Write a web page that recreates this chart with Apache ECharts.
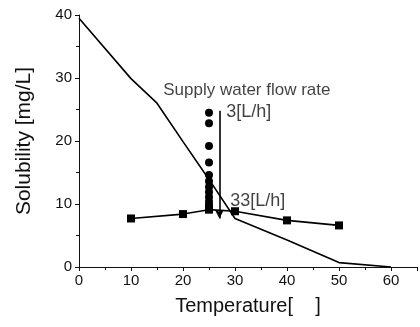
<!DOCTYPE html>
<html>
<head>
<meta charset="utf-8">
<script src="https://cdn.jsdelivr.net/npm/echarts@6/dist/echarts.min.js"></script>
<style>
  html, body { margin: 0; padding: 0; background: #fff; }
  #chart { width: 420px; height: 327px; }
</style>
</head>
<body>
<div id="chart"></div>
<script>
// solubility curve (no markers)
const solubilityTemp = [0, 10, 15, 20, 25, 30, 40, 50, 60];
const solubilityValue = [39.5, 29.9, 26.0, 19.9, 13.9, 7.7, 4.3, 0.7, 0];

// measured points with squares
const squareTemp = [10, 20, 25, 30, 40, 50];
const squareValue = [7.7, 8.4, 9.1, 8.85, 7.4, 6.6];

// measurements at 25 deg for varying flow rate
const circleTemp = [25, 25, 25, 25, 25, 25, 25, 25, 25, 25, 25, 25, 25];
const circleValue = [24.5, 22.8, 19.2, 16.6, 14.6, 13.6, 12.7, 11.9, 11.1, 10.4, 9.9, 9.5, 9.2];

// arrow showing flow direction 3 -> 33 L/h
const arrowTemp = 27;
const arrowFrom = 24.8;
const arrowTo = 7.7;

// annotations, anchored in data coordinates
const noteText = ['Supply water flow rate', '3[L/h]', '33[L/h]'];
const noteTemp = [16.2, 28.3, 29.1];
const noteValue = [28.1, 24.6, 10.4];
const noteSize = [17, 18, 18];

const chart = echarts.init(document.getElementById('chart'));

const font = 'Liberation Sans, Arial, sans-serif';

chart.setOption({
  animation: false,
  grid: { left: 79, top: 15, right: 0, bottom: 60 },
  xAxis: {
    type: 'value',
    min: 0,
    max: 65,
    interval: 10,
    name: 'Temperature[    ]',
    nameLocation: 'middle',
    nameGap: 29,
    nameTextStyle: { color: '#111', fontSize: 20, fontFamily: font },
    axisLine: { lineStyle: { color: '#111', width: 1 } },
    axisTick: { length: 4, lineStyle: { color: '#111' } },
    minorTick: { show: true, splitNumber: 2, length: 3, lineStyle: { color: '#111' } },
    splitLine: { show: false },
    axisLabel: {
      color: '#111', fontSize: 15, fontFamily: font, margin: 6,
      formatter: v => (v % 10 === 0 ? String(v) : '')
    }
  },
  yAxis: {
    type: 'value',
    min: 0,
    max: 40,
    interval: 10,
    name: 'Solubility [mg/L]',
    nameLocation: 'middle',
    nameGap: 44,
    nameTextStyle: { color: '#111', fontSize: 21, fontFamily: font },
    axisLine: { show: true, lineStyle: { color: '#111', width: 1 } },
    axisTick: { show: true, length: 4, lineStyle: { color: '#111' } },
    minorTick: { show: true, splitNumber: 2, length: 3, lineStyle: { color: '#111' } },
    splitLine: { show: false },
    axisLabel: { color: '#111', fontSize: 15, fontFamily: font, margin: 7 }
  },
  series: [
    {
      type: 'line',
      data: solubilityTemp.map((t, i) => [t, solubilityValue[i]]),
      showSymbol: false,
      lineStyle: { color: '#000', width: 1.6 },
      z: 3
    },
    {
      type: 'line',
      data: squareTemp.map((t, i) => [t, squareValue[i]]),
      symbol: 'rect',
      symbolSize: 8,
      itemStyle: { color: '#000', opacity: 1 },
      lineStyle: { color: '#000', width: 1.6 },
      z: 4
    },
    {
      type: 'scatter',
      data: circleTemp.map((t, i) => [t, circleValue[i]]),
      symbol: 'circle',
      symbolSize: 8,
      itemStyle: { color: '#000', opacity: 1 },
      z: 5,
      markLine: {
        silent: true,
        symbol: ['none', 'arrow'],
        symbolSize: [7, 9],
        label: { show: false },
        lineStyle: { color: '#000', width: 1.6, type: 'solid', opacity: 1 },
        data: [[{ coord: [arrowTemp, arrowFrom] }, { coord: [arrowTemp, arrowTo] }]]
      }
    },
    {
      type: 'scatter',
      data: noteText.map((n, i) => ({
        name: n,
        value: [noteTemp[i], noteValue[i]],
        label: { fontSize: noteSize[i] }
      })),
      symbolSize: 0,
      silent: true,
      label: {
        show: true,
        position: 'right',
        distance: 0,
        formatter: p => p.name,
        color: '#111',
        fontFamily: font
      }
    }
  ]
});
</script>
</body>
</html>
